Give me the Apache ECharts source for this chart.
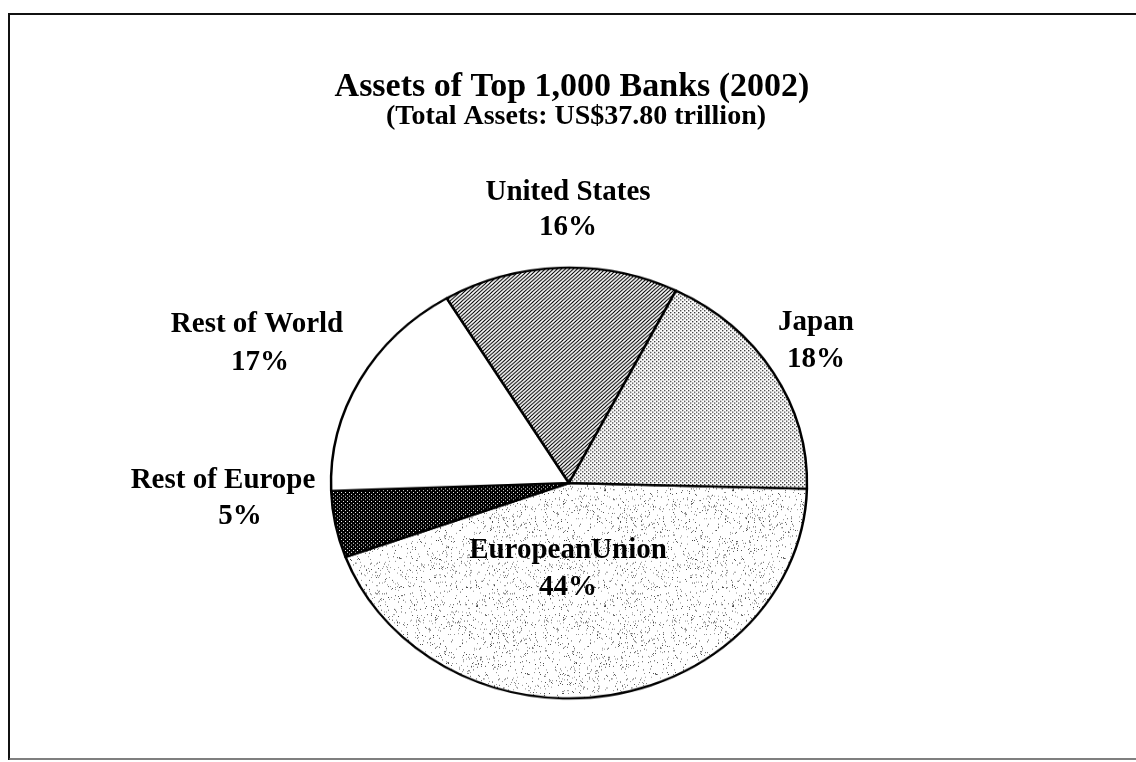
<!DOCTYPE html>
<html><head><meta charset="utf-8">
<script src="https://cdn.jsdelivr.net/npm/echarts@6/dist/echarts.min.js"></script>
<style>
html,body{margin:0;padding:0;background:#fff;}
#pie{position:absolute;left:0;top:0;width:1136px;height:762px;transform-origin:569px 483px;transform:scaleY(0.905);}
#txt{position:absolute;left:0;top:0;width:1136px;height:762px;}
</style></head><body>
<div id="pie"></div><div id="txt"></div>
<script>
// ---- data ----
const categories = ['EuropeanUnion', 'Rest of Europe', 'Rest of World', 'United States', 'Japan'];
const shares = [44, 5, 17, 16, 18];
const titleText = 'Assets of Top 1,000 Banks (2002)';
const subtitleText = '(Total Assets: US$37.80 trillion)';

// ---- layout (label anchor points) ----
const namePos = [[568, 551], [223, 481], [257, 325], [568, 193], [816, 323]];
const pctPos  = [[568, 588], [240, 517], [260, 363], [568, 228], [816, 360]];

// ---- fill textures ----
function tile(w, h, draw) {
  const c = document.createElement('canvas'); c.width = w; c.height = h;
  const g = c.getContext('2d'); g.fillStyle = '#fff'; g.fillRect(0, 0, w, h); draw(g, w, h);
  return { image: c, repeat: 'repeat' };
}
const speckle = tile(128, 128, (g, w, h) => {
  let s = 12345;
  const rnd = () => { s = (s * 1103515245 + 12345) & 0x7fffffff; return s / 0x7fffffff; };
  for (let i = 0; i < 1000; i++) {
    g.fillStyle = rnd() < 0.5 ? '#444' : '#888';
    g.fillRect(Math.floor(rnd() * w), Math.floor(rnd() * h), 1, 1);
  }
});
const checker = tile(4, 4, (g) => {
  g.fillStyle = '#000'; g.fillRect(0, 0, 4, 4);
  g.fillStyle = '#fff'; g.fillRect(1, 1, 1, 1); g.fillRect(3, 3, 1, 1);
});
const plain = '#ffffff';
const hatch = tile(4, 4, (g) => {
  g.strokeStyle = '#000'; g.lineWidth = 1.2;
  g.beginPath(); g.moveTo(-1, 5); g.lineTo(5, -1); g.moveTo(-1, 1); g.lineTo(1, -1); g.moveTo(3, 5); g.lineTo(5, 3); g.stroke();
});
const dots = tile(4, 4, (g) => {
  g.fillStyle = '#333'; g.fillRect(0, 0, 1.4, 1.4); g.fillRect(2, 2, 1.4, 1.4);
});
const fills = [speckle, checker, plain, hatch, dots];

// ---- pie (ellipse via CSS vertical scale) ----
const pie = echarts.init(document.getElementById('pie'), null, { renderer: 'canvas' });
pie.setOption({
  animation: false,
  series: [{
    type: 'pie', center: [569, 483], radius: 238, startAngle: -1.5, clockwise: true,
    label: { show: false }, labelLine: { show: false }, emphasis: { disabled: true },
    data: categories.map((n, i) => ({ name: n, value: shares[i], itemStyle: { color: fills[i], borderColor: '#000', borderWidth: 2.5 } }))
  }]
});

// ---- text overlay ----
const txt = echarts.init(document.getElementById('txt'), null, { renderer: 'canvas' });
const F = '"Liberation Serif", "Times New Roman", serif';
const els = [
  { type: 'line', shape: { x1: 9, y1: 14, x2: 1136, y2: 14 }, style: { stroke: '#111', lineWidth: 2 } },
  { type: 'line', shape: { x1: 9, y1: 13, x2: 9, y2: 760 }, style: { stroke: '#111', lineWidth: 2 } },
  { type: 'line', shape: { x1: 9, y1: 759, x2: 1136, y2: 759 }, style: { stroke: '#555', lineWidth: 1.5 } },
  { type: 'text', style: { text: titleText, x: 572, y: 87, textAlign: 'center', textVerticalAlign: 'middle', fill: '#000', font: 'bold 34px ' + F } },
  { type: 'text', style: { text: subtitleText, x: 576, y: 117, textAlign: 'center', textVerticalAlign: 'middle', fill: '#000', font: 'bold 28px ' + F } }
];
categories.forEach((n, i) => {
  els.push({ type: 'text', style: { text: n, x: namePos[i][0], y: namePos[i][1], textAlign: 'center', textVerticalAlign: 'middle', fill: '#000', font: 'bold 29px ' + F } });
  els.push({ type: 'text', style: { text: shares[i] + '%', x: pctPos[i][0], y: pctPos[i][1], textAlign: 'center', textVerticalAlign: 'middle', fill: '#000', font: 'bold 29px ' + F } });
});
txt.setOption({ animation: false, graphic: { elements: els } });
</script>
</body></html>
